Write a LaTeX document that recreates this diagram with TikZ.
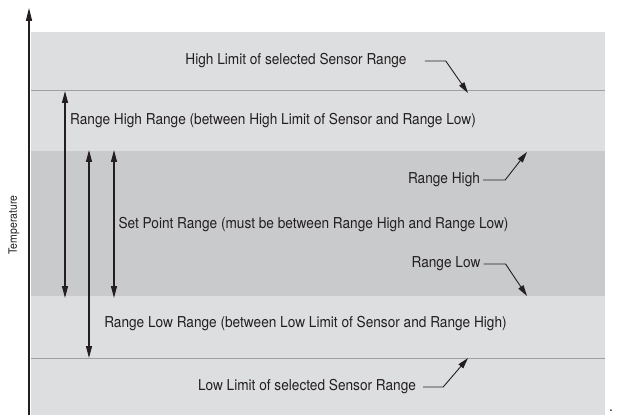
\documentclass[tikz,border=0pt]{standalone}
\usepackage{fontspec}
\setmainfont{TeX Gyre Heros}[FakeStretch=0.91]
\usetikzlibrary{arrows.meta,positioning,calc}
\definecolor{bandlight}{RGB}{221,222,224}
\definecolor{banddark}{RGB}{201,202,204}
\definecolor{limitline}{RGB}{160,160,162}
\definecolor{ink}{RGB}{35,31,32}

\begin{document}
\begin{tikzpicture}[x=1pt, y=1pt,
        lbl/.style={inner sep=0pt, font=\fontsize{15}{17}\selectfont, text=ink},
        span/.style={{Triangle[length=12pt,width=6pt]}-{Triangle[length=12pt,width=6pt]}, line width=1.2pt, ink},
        ptr/.style={-{Triangle[length=11pt,width=6pt]}, line width=0.9pt, ink, line join=miter}]
        \useasboundingbox (0,0) rectangle (617,415);
        % bands
        \fill[bandlight] (31,0) rectangle (605,383);
        \fill[banddark] (31,119) rectangle (605,264);
        \draw[limitline, line width=1pt] (31,324) -- (605,324);
        \draw[limitline, line width=1pt] (31,57) -- (605,57);
        % axis
        \coordinate (o) at (29,0);
        \coordinate (top) at (29,407);
        \draw[-{Triangle[length=13pt,width=6pt]}, line width=1.4pt, ink] (o) -- (top);
        \node[lbl, rotate=90, font=\fontsize{11.5}{13}\selectfont] (temp) at (14,190) {Temperature};
        % ranges
        \coordinate (rh1) at (65,324); \coordinate (rh2) at (65,117);
        \coordinate (rl1) at (89,265); \coordinate (rl2) at (89,57);
        \coordinate (sp1) at (114,265); \coordinate (sp2) at (114,117);
        \draw[span] (rh2) -- (rh1);
        \draw[span] (rl2) -- (rl1);
        \draw[span] (sp2) -- (sp1);
        \node[lbl] (rhr) at (273,294) {Range High Range (between High Limit of Sensor and Range Low)};
        \node[lbl] (spr) at (313.5,190) {Set Point Range (must be between Range High and Range Low)};
        \node[lbl] (rlr) at (305.5,91) {Range Low Range (between Low Limit of Sensor and Range High)};
        % limits
        \node[lbl] (hlim) at (296,354) {High Limit of selected Sensor Range};
        \node[lbl] (rhigh) at (444,235) {Range High};
        \node[lbl] (rlow) at (446,151) {Range Low};
        \node[lbl] (llim) at (307,28) {Low Limit of selected Sensor Range};
        \coordinate (hlimtip) at (468,322);
        \coordinate (rhightip) at (527,263);
        \coordinate (rlowtip) at (527,119);
        \coordinate (llimtip) at (468,57);
        \draw[ptr] ([xshift=18pt]hlim.east) -- ++(21,0) -- (hlimtip);
        \draw[ptr] ([xshift=3pt]rhigh.east) -- ++(22,0) -- (rhightip);
        \draw[ptr] ([xshift=3pt]rlow.east) -- ++(22,0) -- (rlowtip);
        \draw[ptr] ([xshift=7pt]llim.east) -- ++(20,0) -- (llimtip);
        \node[lbl, anchor=south] (dot) at (611,3) {.};
      \end{tikzpicture}
\end{document}
